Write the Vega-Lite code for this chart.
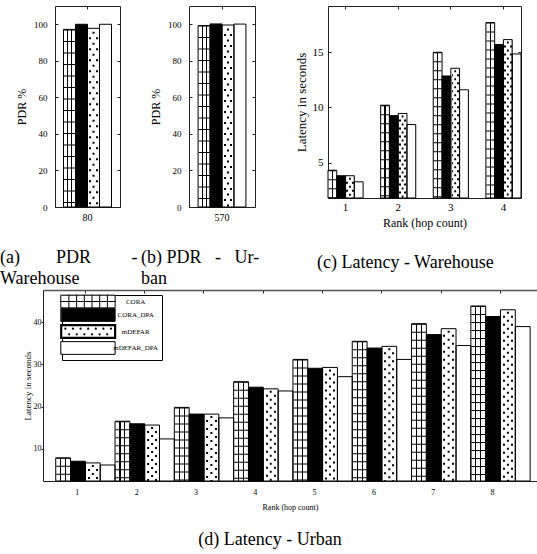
{
 "$schema": "https://vega.github.io/schema/vega-lite/v6.json",
 "background": "white",
 "padding": {"left": 0, "top": 5, "right": 0, "bottom": 0},
 "config": {
  "view": {"stroke": null},
  "font": "Liberation Serif",
  "axis": {"domainColor": "#222", "tickColor": "#222", "labelColor": "black", "titleColor": "black", "labelFont": "Liberation Serif", "titleFont": "Liberation Serif", "titleFontWeight": "normal", "grid": false, "labelAngle": 0, "zindex": 1},
  "title": {"font": "Liberation Serif", "fontSize": 18, "fontWeight": "normal", "color": "black", "lineHeight": 21}
 },
 "datasets": {
  "pdrw": [
   {"x": "80", "series": "CORA", "v": 97.2},
   {"x": "80", "series": "CORA_DPA", "v": 100},
   {"x": "80", "series": "mDEFAR", "v": 97.8},
   {"x": "80", "series": "mDEFAR_DPA", "v": 100}
  ],
  "pdru": [
   {"x": "570", "series": "CORA", "v": 99.3},
   {"x": "570", "series": "CORA_DPA", "v": 100.2},
   {"x": "570", "series": "mDEFAR", "v": 99.6},
   {"x": "570", "series": "mDEFAR_DPA", "v": 100.1}
  ],
  "latw": [
   {"x": "1", "series": "CORA", "v": 4.3}, {"x": "1", "series": "CORA_DPA", "v": 3.8}, {"x": "1", "series": "mDEFAR", "v": 3.8}, {"x": "1", "series": "mDEFAR_DPA", "v": 3.25},
   {"x": "2", "series": "CORA", "v": 10.2}, {"x": "2", "series": "CORA_DPA", "v": 9.25}, {"x": "2", "series": "mDEFAR", "v": 9.45}, {"x": "2", "series": "mDEFAR_DPA", "v": 8.45},
   {"x": "3", "series": "CORA", "v": 15.0}, {"x": "3", "series": "CORA_DPA", "v": 12.85}, {"x": "3", "series": "mDEFAR", "v": 13.55}, {"x": "3", "series": "mDEFAR_DPA", "v": 11.6},
   {"x": "4", "series": "CORA", "v": 17.7}, {"x": "4", "series": "CORA_DPA", "v": 15.7}, {"x": "4", "series": "mDEFAR", "v": 16.15}, {"x": "4", "series": "mDEFAR_DPA", "v": 14.85}
  ],
  "latu": [
   {"x": "1", "series": "CORA", "v": 7.8}, {"x": "1", "series": "CORA_DPA", "v": 7.0}, {"x": "1", "series": "mDEFAR", "v": 6.6}, {"x": "1", "series": "mDEFAR_DPA", "v": 6.1},
   {"x": "2", "series": "CORA", "v": 16.5}, {"x": "2", "series": "CORA_DPA", "v": 15.9}, {"x": "2", "series": "mDEFAR", "v": 15.6}, {"x": "2", "series": "mDEFAR_DPA", "v": 12.3},
   {"x": "3", "series": "CORA", "v": 19.8}, {"x": "3", "series": "CORA_DPA", "v": 18.2}, {"x": "3", "series": "mDEFAR", "v": 18.2}, {"x": "3", "series": "mDEFAR_DPA", "v": 17.3},
   {"x": "4", "series": "CORA", "v": 25.9}, {"x": "4", "series": "CORA_DPA", "v": 24.6}, {"x": "4", "series": "mDEFAR", "v": 24.2}, {"x": "4", "series": "mDEFAR_DPA", "v": 23.7},
   {"x": "5", "series": "CORA", "v": 31.2}, {"x": "5", "series": "CORA_DPA", "v": 29.1}, {"x": "5", "series": "mDEFAR", "v": 29.3}, {"x": "5", "series": "mDEFAR_DPA", "v": 27.1},
   {"x": "6", "series": "CORA", "v": 35.5}, {"x": "6", "series": "CORA_DPA", "v": 33.9}, {"x": "6", "series": "mDEFAR", "v": 34.3}, {"x": "6", "series": "mDEFAR_DPA", "v": 31.2},
   {"x": "7", "series": "CORA", "v": 39.7}, {"x": "7", "series": "CORA_DPA", "v": 37.1}, {"x": "7", "series": "mDEFAR", "v": 38.5}, {"x": "7", "series": "mDEFAR_DPA", "v": 34.5},
   {"x": "8", "series": "CORA", "v": 43.9}, {"x": "8", "series": "CORA_DPA", "v": 41.4}, {"x": "8", "series": "mDEFAR", "v": 43.0}, {"x": "8", "series": "mDEFAR_DPA", "v": 39.0}
  ]
 },
 "resolve": {"scale": {"fill": "independent", "xOffset": "independent"}},
 "columns": 1,
 "spacing": 1,
 "concat": [
  {
   "spacing": 35,
   "resolve": {"scale": {"fill": "independent", "xOffset": "independent"}},
   "hconcat": [
    {
     "spacing": 3,
     "resolve": {"scale": {"fill": "independent", "xOffset": "independent"}},
     "hconcat": [
      {
       "width": 65, "height": 201,
       "data": {"name": "pdrw"},
       "title": {"text": ["(a)\u00a0\u00a0\u00a0\u00a0\u00a0\u00a0\u00a0\u00a0PDR\u00a0\u00a0\u00a0\u00a0\u00a0\u00a0\u00a0\u00a0\u00a0-", "Warehouse"], "orient": "bottom", "anchor": "start", "frame": "group", "dx": -55, "offset": 27},
       "encoding": {
        "x": {"field": "x", "type": "nominal", "axis": null, "scale": {"paddingInner": 0, "paddingOuter": 0.177}},
        "xOffset": {"field": "series", "type": "nominal", "scale": {"domain": ["CORA", "CORA_DPA", "mDEFAR", "mDEFAR_DPA"], "paddingInner": 0, "paddingOuter": 0}},
        "y": {"field": "v", "type": "quantitative", "axis": null, "scale": {"domain": [0, 110], "nice": false, "zero": false}},
        "y2": {"datum": 0}
       },
       "resolve": {"axis": {"x": "independent", "y": "independent"}},
       "layer": [
        {"mark": {"type": "bar", "strokeWidth": 0},
         "encoding": {
          "x": {"field": "x", "type": "nominal", "scale": {"paddingInner": 0, "paddingOuter": 0.177}, "axis": {"orient": "bottom", "title": null, "labelFontSize": 10, "tickSize": -3, "labelPadding": 8}},
          "y": {"field": "v", "type": "quantitative", "scale": {"domain": [0, 110], "nice": false, "zero": false}, "axis": {"orient": "left", "values": [0, 20, 40, 60, 80, 100], "title": "PDR %", "titleFontSize": 12, "labelFontSize": 9, "tickSize": -3, "labelPadding": 11, "titlePadding": 5}},
          "fill": {"field": "series", "type": "nominal", "scale": {"domain": ["CORA", "CORA_DPA", "mDEFAR", "mDEFAR_DPA"], "range": ["white", "black", "white", "white"]}, "legend": null}
         }},
        {"transform": [{"filter": "datum.series === 'CORA'"}],
         "mark": {"type": "bar", "strokeWidth": 0, "fill": {"gradient": "linear", "x1": 0, "y1": 0, "x2": 1, "y2": 0, "stops": [{"offset": 0, "color": "white"}, {"offset": 0.3, "color": "white"}, {"offset": 0.3, "color": "black"}, {"offset": 0.38, "color": "black"}, {"offset": 0.38, "color": "white"}, {"offset": 0.63, "color": "white"}, {"offset": 0.63, "color": "black"}, {"offset": 0.71, "color": "black"}, {"offset": 0.71, "color": "white"}, {"offset": 1, "color": "white"}]}}},
        {"transform": [{"filter": "datum.series === 'CORA'"}],
         "mark": {"type": "rule", "color": "black", "strokeWidth": 11, "strokeDash": [1, 10.5]}},
        {"transform": [{"filter": "datum.series === 'mDEFAR'"}],
         "mark": {"type": "bar", "strokeWidth": 0, "fill": {"gradient": "linear", "x1": 0, "y1": 0, "x2": 1, "y2": 0, "stops": [{"offset": 0, "color": "white"}, {"offset": 0.15, "color": "white"}, {"offset": 0.15, "color": "black"}, {"offset": 0.32, "color": "black"}, {"offset": 0.32, "color": "white"}, {"offset": 0.68, "color": "white"}, {"offset": 0.68, "color": "black"}, {"offset": 0.85, "color": "black"}, {"offset": 0.85, "color": "white"}, {"offset": 1, "color": "white"}]}}},
        {"transform": [{"filter": "datum.series === 'mDEFAR'"}],
         "mark": {"type": "rule", "color": "white", "strokeWidth": 11, "strokeDash": [9, 2]}},
        {"transform": [{"filter": "datum.series === 'mDEFAR'"}],
         "mark": {"type": "rule", "color": "black", "strokeWidth": 2, "strokeDash": [2, 9], "strokeDashOffset": 7.5}},
        {"mark": {"type": "bar", "fill": "transparent", "stroke": "black", "strokeWidth": 1},
         "encoding": {
          "x": {"field": "x", "type": "nominal", "scale": {"paddingInner": 0, "paddingOuter": 0.177}, "axis": {"orient": "top", "labels": false, "title": null, "tickSize": -3}},
          "y": {"field": "v", "type": "quantitative", "scale": {"domain": [0, 110], "nice": false, "zero": false}, "axis": {"orient": "right", "labels": false, "title": null, "tickSize": -3, "values": [0, 20, 40, 60, 80, 100]}}
         }}
       ]
      },
      {
       "width": 66, "height": 201,
       "data": {"name": "pdru"},
       "title": {"text": ["(b)\u00a0PDR\u00a0\u00a0\u00a0-\u00a0\u00a0\u00a0Ur-", "ban"], "orient": "bottom", "anchor": "start", "frame": "group", "dx": -48, "offset": 27},
       "encoding": {
        "x": {"field": "x", "type": "nominal", "axis": null, "scale": {"paddingInner": 0, "paddingOuter": 0.19}},
        "xOffset": {"field": "series", "type": "nominal", "scale": {"domain": ["CORA", "CORA_DPA", "mDEFAR", "mDEFAR_DPA"], "paddingInner": 0, "paddingOuter": 0}},
        "y": {"field": "v", "type": "quantitative", "axis": null, "scale": {"domain": [0, 110], "nice": false, "zero": false}},
        "y2": {"datum": 0}
       },
       "resolve": {"axis": {"x": "independent", "y": "independent"}},
       "layer": [
        {"mark": {"type": "bar", "strokeWidth": 0},
         "encoding": {
          "x": {"field": "x", "type": "nominal", "scale": {"paddingInner": 0, "paddingOuter": 0.19}, "axis": {"orient": "bottom", "title": null, "labelFontSize": 10, "tickSize": -3, "labelPadding": 8}},
          "y": {"field": "v", "type": "quantitative", "scale": {"domain": [0, 110], "nice": false, "zero": false}, "axis": {"orient": "left", "values": [0, 20, 40, 60, 80, 100], "title": "PDR %", "titleFontSize": 12, "labelFontSize": 9, "tickSize": -3, "labelPadding": 11, "titlePadding": 5}},
          "fill": {"field": "series", "type": "nominal", "scale": {"domain": ["CORA", "CORA_DPA", "mDEFAR", "mDEFAR_DPA"], "range": ["white", "black", "white", "white"]}, "legend": null}
         }},
        {"transform": [{"filter": "datum.series === 'CORA'"}],
         "mark": {"type": "bar", "strokeWidth": 0, "fill": {"gradient": "linear", "x1": 0, "y1": 0, "x2": 1, "y2": 0, "stops": [{"offset": 0, "color": "white"}, {"offset": 0.3, "color": "white"}, {"offset": 0.3, "color": "black"}, {"offset": 0.38, "color": "black"}, {"offset": 0.38, "color": "white"}, {"offset": 0.63, "color": "white"}, {"offset": 0.63, "color": "black"}, {"offset": 0.71, "color": "black"}, {"offset": 0.71, "color": "white"}, {"offset": 1, "color": "white"}]}}},
        {"transform": [{"filter": "datum.series === 'CORA'"}],
         "mark": {"type": "rule", "color": "black", "strokeWidth": 11, "strokeDash": [1, 10.5]}},
        {"transform": [{"filter": "datum.series === 'mDEFAR'"}],
         "mark": {"type": "bar", "strokeWidth": 0, "fill": {"gradient": "linear", "x1": 0, "y1": 0, "x2": 1, "y2": 0, "stops": [{"offset": 0, "color": "white"}, {"offset": 0.15, "color": "white"}, {"offset": 0.15, "color": "black"}, {"offset": 0.32, "color": "black"}, {"offset": 0.32, "color": "white"}, {"offset": 0.68, "color": "white"}, {"offset": 0.68, "color": "black"}, {"offset": 0.85, "color": "black"}, {"offset": 0.85, "color": "white"}, {"offset": 1, "color": "white"}]}}},
        {"transform": [{"filter": "datum.series === 'mDEFAR'"}],
         "mark": {"type": "rule", "color": "white", "strokeWidth": 11, "strokeDash": [9, 2]}},
        {"transform": [{"filter": "datum.series === 'mDEFAR'"}],
         "mark": {"type": "rule", "color": "black", "strokeWidth": 2, "strokeDash": [2, 9], "strokeDashOffset": 7.5}},
        {"mark": {"type": "bar", "fill": "transparent", "stroke": "black", "strokeWidth": 1},
         "encoding": {
          "x": {"field": "x", "type": "nominal", "scale": {"paddingInner": 0, "paddingOuter": 0.19}, "axis": {"orient": "top", "labels": false, "title": null, "tickSize": -3}},
          "y": {"field": "v", "type": "quantitative", "scale": {"domain": [0, 110], "nice": false, "zero": false}, "axis": {"orient": "right", "labels": false, "title": null, "tickSize": -3, "values": [0, 20, 40, 60, 80, 100]}}
         }}
       ]
      }
     ]
    },
    {
     "width": 193, "height": 192,
     "data": {"name": "latw"},
     "title": {"text": "(c) Latency - Warehouse", "orient": "bottom", "anchor": "start", "frame": "group", "dx": -11, "offset": 26},
     "encoding": {
      "x": {"field": "x", "type": "nominal", "axis": null, "scale": {"paddingInner": 0.333, "paddingOuter": 0}},
      "xOffset": {"field": "series", "type": "nominal", "scale": {"domain": ["CORA", "CORA_DPA", "mDEFAR", "mDEFAR_DPA"], "paddingInner": 0, "paddingOuter": 0}},
      "y": {"field": "v", "type": "quantitative", "axis": null, "scale": {"domain": [1.78, 19.2], "nice": false, "zero": false}},
      "y2": {"datum": 1.78}
     },
     "resolve": {"axis": {"x": "independent", "y": "independent"}},
     "layer": [
      {"mark": {"type": "bar", "strokeWidth": 0},
       "encoding": {
        "x": {"field": "x", "type": "nominal", "scale": {"paddingInner": 0.333, "paddingOuter": 0}, "axis": {"orient": "bottom", "title": "Rank (hop count)", "titleFontSize": 12, "titlePadding": 5, "labelFontSize": 11, "tickSize": -3, "labelPadding": 6}},
        "y": {"field": "v", "type": "quantitative", "scale": {"domain": [1.78, 19.2], "nice": false, "zero": false}, "axis": {"orient": "left", "values": [5, 10, 15], "title": "Latency   in   seconds", "titleFontSize": 13, "labelFontSize": 11, "tickSize": -3, "labelPadding": 8, "titlePadding": 4}},
        "fill": {"field": "series", "type": "nominal", "scale": {"domain": ["CORA", "CORA_DPA", "mDEFAR", "mDEFAR_DPA"], "range": ["white", "black", "white", "white"]}, "legend": null}
       }},
      {"transform": [{"filter": "datum.series === 'CORA'"}],
       "mark": {"type": "bar", "strokeWidth": 0, "fill": {"gradient": "linear", "x1": 0, "y1": 0, "x2": 1, "y2": 0, "stops": [{"offset": 0, "color": "white"}, {"offset": 0.44, "color": "white"}, {"offset": 0.44, "color": "black"}, {"offset": 0.56, "color": "black"}, {"offset": 0.56, "color": "white"}, {"offset": 1, "color": "white"}]}}},
      {"transform": [{"filter": "datum.series === 'CORA'"}],
       "mark": {"type": "rule", "color": "black", "strokeWidth": 8, "strokeDash": [1, 8]}},
      {"transform": [{"filter": "datum.series === 'mDEFAR'"}],
       "mark": {"type": "bar", "strokeWidth": 0, "fill": {"gradient": "linear", "x1": 0, "y1": 0, "x2": 1, "y2": 0, "stops": [{"offset": 0, "color": "white"}, {"offset": 0.08, "color": "white"}, {"offset": 0.08, "color": "black"}, {"offset": 0.3, "color": "black"}, {"offset": 0.3, "color": "white"}, {"offset": 0.7, "color": "white"}, {"offset": 0.7, "color": "black"}, {"offset": 0.92, "color": "black"}, {"offset": 0.92, "color": "white"}, {"offset": 1, "color": "white"}]}}},
      {"transform": [{"filter": "datum.series === 'mDEFAR'"}],
       "mark": {"type": "rule", "color": "white", "strokeWidth": 8, "strokeDash": [6, 2]}},
      {"transform": [{"filter": "datum.series === 'mDEFAR'"}],
       "mark": {"type": "rule", "color": "black", "strokeWidth": 1.8, "strokeDash": [2, 6], "strokeDashOffset": 6}},
      {"mark": {"type": "bar", "fill": "transparent", "stroke": "black", "strokeWidth": 1},
       "encoding": {
        "x": {"field": "x", "type": "nominal", "scale": {"paddingInner": 0.333, "paddingOuter": 0}, "axis": {"orient": "top", "labels": false, "title": null, "tickSize": -3}},
        "y": {"field": "v", "type": "quantitative", "scale": {"domain": [1.78, 19.2], "nice": false, "zero": false}, "axis": {"orient": "right", "labels": false, "title": null, "tickSize": -3, "values": [5, 10, 15]}}
       }}
     ]
    }
   ]
  },
  {
   "width": 482, "height": 191,
   "data": {"name": "latu"},
   "title": {"text": "(d) Latency - Urban", "orient": "bottom", "anchor": "middle", "frame": "group", "dx": -26, "offset": 20},
   "encoding": {
    "x": {"field": "x", "type": "nominal", "axis": null, "scale": {"range": [-12, 482], "paddingInner": 0, "paddingOuter": 0.165, "align": 0.65}},
    "xOffset": {"field": "series", "type": "nominal", "scale": {"domain": ["CORA", "CORA_DPA", "mDEFAR", "mDEFAR_DPA"], "paddingInner": 0, "paddingOuter": 0}},
    "y": {"field": "v", "type": "quantitative", "axis": null, "scale": {"domain": [2.3, 47.7], "nice": false, "zero": false}},
    "y2": {"datum": 2.3}
   },
   "resolve": {"axis": {"x": "independent", "y": "independent"}},
   "layer": [
    {"mark": {"type": "bar", "strokeWidth": 0},
     "encoding": {
      "x": {"field": "x", "type": "nominal", "scale": {"range": [-12, 482], "paddingInner": 0, "paddingOuter": 0.165, "align": 0.65}, "axis": {"orient": "bottom", "title": "Rank (hop count)", "titleFontSize": 8, "titlePadding": 7, "labelFontSize": 8, "ticks": false, "labelPadding": 7, "labelOffset": -8}},
      "y": {"field": "v", "type": "quantitative", "scale": {"domain": [2.3, 47.7], "nice": false, "zero": false}, "axis": {"orient": "left", "offset": 12, "values": [10, 20, 30, 40], "title": "Latency  in  seconds", "titleFontSize": 9, "labelFontSize": 8, "tickSize": 2, "labelPadding": 0, "titlePadding": 1}},
      "fill": {"field": "series", "type": "nominal", "scale": {"domain": ["CORA", "CORA_DPA", "mDEFAR", "mDEFAR_DPA"], "range": ["white", "black", "white", "white"]},
       "legend": {"orient": "none", "legendX": 7, "legendY": 5, "title": null, "strokeColor": "black", "fillColor": "white", "padding": 3, "symbolType": "M-4.25,-1H4.25V1H-4.25Z", "symbolSize": 161, "symbolOffset": 19.65, "symbolStrokeColor": "black", "symbolStrokeWidth": 1, "labelOffset": 44, "labelAlign": "center", "labelFont": "Liberation Serif", "labelFontSize": 7, "labelColor": "black", "rowPadding": -3.5,
        "encode": {"symbols": {"update": {
         "shape": {"signal": "datum.value === 'CORA' ? 'M-4.25,-1H4.25V1H-4.25Z M-3.036,-1V1 M-1.821,-1V1 M-0.607,-1V1 M0.607,-1V1 M1.821,-1V1 M3.036,-1V1 M-4.25,0H4.25' : datum.value === 'mDEFAR' ? 'M-4.25,-1H4.25V1H-4.25Z M-3.6,-0.45h0.01 M-2.4,-0.45h0.01 M-1.2,-0.45h0.01 M0,-0.45h0.01 M1.2,-0.45h0.01 M2.4,-0.45h0.01 M3.6,-0.45h0.01 M-3,0.45h0.01 M-1.8,0.45h0.01 M-0.6,0.45h0.01 M0.6,0.45h0.01 M1.8,0.45h0.01 M3,0.45h0.01' : 'M-4.25,-1H4.25V1H-4.25Z'"},
         "strokeWidth": {"signal": "datum.value === 'mDEFAR' ? 2.2 : 1"},
         "stroke": {"value": "black"},
         "strokeCap": {"value": "round"}
        }}}}}
     }},
    {"transform": [{"filter": "datum.series === 'CORA'"}],
     "mark": {"type": "bar", "strokeWidth": 0, "fill": {"gradient": "linear", "x1": 0, "y1": 0, "x2": 1, "y2": 0, "stops": [{"offset": 0, "color": "white"}, {"offset": 0.3, "color": "white"}, {"offset": 0.3, "color": "black"}, {"offset": 0.37, "color": "black"}, {"offset": 0.37, "color": "white"}, {"offset": 0.63, "color": "white"}, {"offset": 0.63, "color": "black"}, {"offset": 0.7, "color": "black"}, {"offset": 0.7, "color": "white"}, {"offset": 1, "color": "white"}]}}},
    {"transform": [{"filter": "datum.series === 'CORA'"}],
     "mark": {"type": "rule", "color": "black", "strokeWidth": 14, "strokeDash": [1, 7]}},
    {"transform": [{"filter": "datum.series === 'mDEFAR'"}],
     "mark": {"type": "bar", "strokeWidth": 0, "fill": {"gradient": "linear", "x1": 0, "y1": 0, "x2": 1, "y2": 0, "stops": [{"offset": 0, "color": "white"}, {"offset": 0.15, "color": "white"}, {"offset": 0.15, "color": "black"}, {"offset": 0.29, "color": "black"}, {"offset": 0.29, "color": "white"}, {"offset": 0.71, "color": "white"}, {"offset": 0.71, "color": "black"}, {"offset": 0.85, "color": "black"}, {"offset": 0.85, "color": "white"}, {"offset": 1, "color": "white"}]}}},
    {"transform": [{"filter": "datum.series === 'mDEFAR'"}],
     "mark": {"type": "rule", "color": "white", "strokeWidth": 14, "strokeDash": [6, 2]}},
    {"transform": [{"filter": "datum.series === 'mDEFAR'"}],
     "mark": {"type": "rule", "color": "black", "strokeWidth": 2, "strokeDash": [2, 6], "strokeDashOffset": 6}},
    {"mark": {"type": "bar", "fill": "transparent", "stroke": "black", "strokeWidth": 1},
     "encoding": {
      "x": {"field": "x", "type": "nominal", "scale": {"range": [-12, 482], "paddingInner": 0, "paddingOuter": 0.165, "align": 0.65}, "axis": {"orient": "top", "labels": false, "title": null, "tickSize": -3, "domainWidth": 1.5, "domainColor": "#555"}}
     }}
   ]
  }
 ]
}
